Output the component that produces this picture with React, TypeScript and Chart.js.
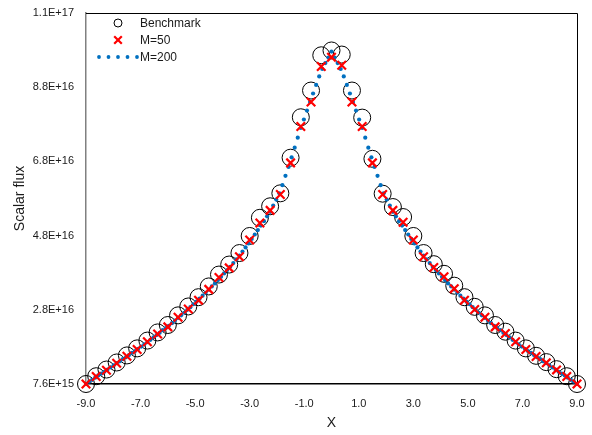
import React, { useEffect, useRef } from "react";
import { Chart, registerables } from "chart.js";

Chart.register(...registerables);

// Units of 1E+15
const UNIT = 1e15;
const X_MIN = -9;
const X_MAX = 9;

// Mesh positions (uniform cell grids)
const N_COARSE = 49;
const N_FINE = 161;
const xCoarse = Array.from({ length: N_COARSE }, (_, i) => X_MIN + (i * (X_MAX - X_MIN)) / (N_COARSE - 1));
const xFine = Array.from({ length: N_FINE }, (_, i) => X_MIN + (i * (X_MAX - X_MIN)) / (N_FINE - 1));

const benchmark = [
  7.6, 9.7, 11.5, 13.4, 15.3, 17.2, 19.3, 21.5, 23.5, 26.1, 28.5, 31.0, 33.9, 37.1, 39.8, 42.9, 47.5, 52.4, 55.5, 59.0,
  68.6, 79.5, 86.7, 96.2, 97.5,
  96.4, 86.7, 79.4, 68.3, 58.9, 55.3, 52.6, 47.5, 42.9, 39.9, 37.3, 34.1, 31.0, 28.4, 26.1, 23.5, 21.7, 19.3, 17.2, 15.2,
  13.5, 11.6, 9.7, 7.6,
];

const m50 = [
  7.6, 9.6, 11.3, 13.2, 15.1, 16.9, 19.0, 21.1, 23.0, 25.6, 27.8, 30.2, 33.1, 36.3, 38.9, 41.9, 46.4, 51.0, 54.4, 58.7,
  67.2, 77.0, 83.6, 93.2, 95.7,
  93.5, 83.6, 77.0, 67.2, 58.7, 54.4, 51.2, 46.4, 41.9, 39.0, 36.5, 33.3, 30.2, 27.7, 25.6, 23.0, 21.2, 19.0, 16.9, 15.0,
  13.3, 11.4, 9.6, 7.6,
];

const m200 = [
  7.6, 8.2, 8.7, 9.3, 9.9, 10.4, 10.9, 11.5, 12.1, 12.6,
  13.2, 13.7, 14.3, 14.8, 15.4, 16.0, 16.5, 17.1, 17.7, 18.3,
  18.9, 19.5, 20.2, 20.8, 21.4, 22.1, 22.7, 23.3, 24.0, 24.7,
  25.4, 26.1, 26.8, 27.6, 28.3, 29.1, 29.8, 30.6, 31.4, 32.2,
  33.0, 33.9, 34.7, 35.6, 36.5, 37.4, 38.3, 39.2, 40.2, 41.2,
  42.2, 43.3, 44.4, 45.5, 46.7, 47.9, 49.1, 50.3, 51.5, 52.8,
  54.0, 55.7, 57.3, 59.0, 61.2, 63.7, 66.1, 68.7, 71.3, 74.0,
  76.6, 78.9, 81.3, 83.6, 85.9, 88.2, 90.5, 92.5, 94.1, 95.6,
  97.2,
  95.6, 94.1, 92.5, 90.5, 88.2, 85.9, 83.6, 81.3, 78.9, 76.6,
  74.0, 71.3, 68.7, 66.1, 63.7, 61.2, 59.0, 57.3, 55.7, 54.0,
  52.8, 51.5, 50.3, 49.1, 47.9, 46.7, 45.5, 44.4, 43.3, 42.2,
  41.2, 40.2, 39.2, 38.3, 37.4, 36.5, 35.6, 34.7, 33.9, 33.0,
  32.2, 31.4, 30.6, 29.8, 29.1, 28.3, 27.6, 26.8, 26.1, 25.4,
  24.7, 24.0, 23.3, 22.7, 22.1, 21.4, 20.8, 20.2, 19.5, 18.9,
  18.3, 17.7, 17.1, 16.5, 16.0, 15.4, 14.8, 14.3, 13.7, 13.2,
  12.6, 12.1, 11.5, 10.9, 10.4, 9.9, 9.3, 8.7, 8.2, 7.6,
];

const Y_MIN = 7.6e15;
const Y_MAX = 1.076e17;
const Y_STEP = 2e16;
const X_STEP = 2;

const seriesLabels = ["Benchmark", "M=50", "M=200"];
const xTitle = "X";
const yTitle = "Scalar flux";

const FONT = "'Liberation Sans', Arial, sans-serif";
const TEXT = "#1a1a1a";
const RED = "#FF0000";
const BLUE = "#0070C0";

const framePlugin = {
  id: "frame",
  beforeDatasetsDraw(chart: any) {
    const { ctx, chartArea } = chart;
    const { left, right, top, bottom } = chartArea;
    ctx.save();
    ctx.strokeStyle = "#000";
    ctx.lineWidth = 1;
    ctx.beginPath();
    ctx.moveTo(left, top + 0.5);
    ctx.lineTo(right + 0.5, top + 0.5);
    ctx.lineTo(right + 0.5, bottom);
    ctx.stroke();
    ctx.restore();
  },
};

const legendPlugin = {
  id: "customLegend",
  afterDatasetsDraw(chart: any) {
    const { ctx, chartArea } = chart;
    const cx = chartArea.left + 32;
    const y0 = chartArea.top + 10;
    const dy = 17;
    const tx = chartArea.left + 54;
    ctx.save();
    // Benchmark: open circle
    ctx.strokeStyle = "#000";
    ctx.lineWidth = 1;
    ctx.beginPath();
    ctx.arc(cx, y0, 4, 0, Math.PI * 2);
    ctx.stroke();
    // M=50: red cross
    ctx.strokeStyle = RED;
    ctx.lineWidth = 2.2;
    ctx.beginPath();
    ctx.moveTo(cx - 3.8, y0 + dy - 3.8);
    ctx.lineTo(cx + 3.8, y0 + dy + 3.8);
    ctx.moveTo(cx + 3.8, y0 + dy - 3.8);
    ctx.lineTo(cx - 3.8, y0 + dy + 3.8);
    ctx.stroke();
    // M=200: dotted line
    ctx.fillStyle = BLUE;
    for (let j = -2; j <= 2; j++) {
      ctx.beginPath();
      ctx.arc(cx + j * 9.5, y0 + 2 * dy, 1.9, 0, Math.PI * 2);
      ctx.fill();
    }
    // Labels
    ctx.fillStyle = TEXT;
    ctx.font = `12px ${FONT}`;
    ctx.textBaseline = "middle";
    ctx.textAlign = "left";
    seriesLabels.forEach((t, i) => ctx.fillText(t, tx, y0 + i * dy + 0.5));
    ctx.restore();
  },
};

export default function App() {
  const ref = useRef<HTMLCanvasElement>(null);

  useEffect(() => {
    const canvas = ref.current;
    if (!canvas) return;
    const chart = new Chart(canvas, {
      type: "scatter",
      data: {
        datasets: [
          {
            label: seriesLabels[1],
            data: xCoarse.map((x, i) => ({ x, y: m50[i] * UNIT })),
            pointStyle: "crossRot",
            pointRadius: 6,
            borderWidth: 2.2,
            borderColor: RED,
            backgroundColor: RED,
            showLine: false,
            clip: false as any,
            order: 0,
          },
          {
            label: seriesLabels[2],
            data: xFine.map((x, i) => ({ x, y: m200[i] * UNIT })),
            pointStyle: "circle",
            pointRadius: 2.1,
            borderWidth: 0,
            borderColor: BLUE,
            backgroundColor: BLUE,
            showLine: false,
            clip: false as any,
            order: 1,
          },
          {
            label: seriesLabels[0],
            data: xCoarse.map((x, i) => ({ x, y: benchmark[i] * UNIT })),
            pointStyle: "circle",
            pointRadius: 8.5,
            borderWidth: 1,
            borderColor: "#000",
            backgroundColor: "rgba(0,0,0,0)",
            showLine: false,
            clip: false as any,
            order: 2,
          },
        ],
      },
      options: {
        animation: false,
        responsive: false,
        devicePixelRatio: 1,
        events: [],
        layout: { padding: { top: 13, right: 15, left: 0, bottom: 0 } },
        plugins: { legend: { display: false }, tooltip: { enabled: false } },
        scales: {
          x: {
            type: "linear",
            min: X_MIN,
            max: X_MAX,
            ticks: {
              stepSize: X_STEP,
              autoSkip: false,
              maxRotation: 0,
              padding: 13,
              color: TEXT,
              font: { family: FONT, size: 11 },
              callback: (v: any) => Number(v).toFixed(1),
            },
            grid: { display: false, drawTicks: false },
            border: { display: true, color: "#000", width: 1.5 },
            title: {
              display: true,
              text: xTitle,
              color: TEXT,
              font: { family: FONT, size: 14 },
              padding: { top: 0, bottom: 3 },
            },
            afterFit(s: any) {
              s.height = 51;
              s.paddingLeft = 0;
              s.paddingRight = 0;
            },
          },
          y: {
            type: "linear",
            min: Y_MIN,
            max: Y_MAX,
            ticks: {
              stepSize: Y_STEP,
              padding: 12,
              color: TEXT,
              font: { family: FONT, size: 11 },
              callback: (v: any) => Number(v).toExponential(1).toUpperCase(),
            },
            grid: { display: false, drawTicks: false },
            border: { display: true, color: "#808080", width: 1.5 },
            title: {
              display: true,
              text: yTitle,
              color: TEXT,
              font: { family: FONT, size: 14 },
              padding: { top: 12, bottom: 0 },
            },
            afterFit(s: any) {
              s.width = 86;
              s.paddingTop = 0;
              s.paddingBottom = 0;
            },
          },
        },
      } as any,
      plugins: [framePlugin, legendPlugin],
    });
    return () => chart.destroy();
  }, []);

  return (
    <div style={{ position: "absolute", left: 0, top: 0, width: 592, height: 435, background: "#fff" }}>
      <canvas ref={ref} width={592} height={435} style={{ display: "block", width: 592, height: 435 }} />
    </div>
  );
}
